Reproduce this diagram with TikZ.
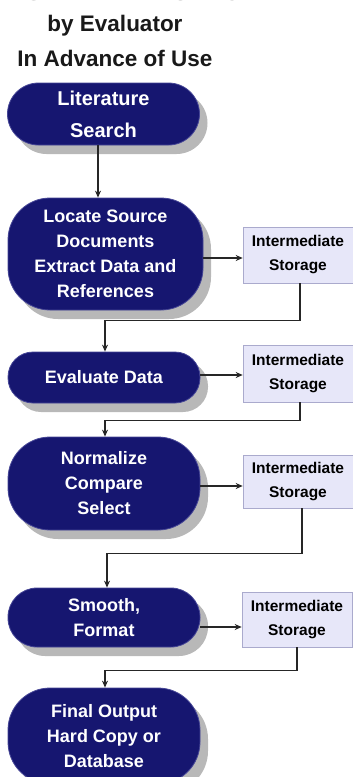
\documentclass[tikz,border=0pt]{standalone}
\usepackage{fontspec}
\setmainfont{Liberation Sans}
\usetikzlibrary{shadows,arrows.meta}
\definecolor{navy}{RGB}{22,22,112}
\definecolor{navyedge}{RGB}{70,70,150}
\definecolor{stor}{RGB}{231,231,249}
\definecolor{storline}{RGB}{170,170,205}
\tikzset{
  proc/.style={draw=navyedge, line width=0.8pt, fill=navy, text=white,
    font=\bfseries\fontsize{18}{25}\selectfont, align=center,
    minimum width=192pt, inner sep=0pt,
    drop shadow={shadow xshift=8pt, shadow yshift=-9pt, fill=black, opacity=0.28}},
  storebox/.style={draw=storline, line width=0.6pt, fill=stor, text=black,
    font=\bfseries\fontsize{15.5}{24}\selectfont, align=center,
    minimum width=110pt, inner sep=0pt},
  titletext/.style={font=\bfseries\fontsize{22.5}{33}\selectfont, text=black!90, inner sep=0pt},
  arr/.style={line width=1.1pt, draw=black!85, -{Stealth[length=7pt,width=6pt]}},
}
\begin{document}
\begin{tikzpicture}[x=1pt,y=-1pt]
\useasboundingbox (0,0) rectangle (353,777);
\clip (0,0) rectangle (353,777);
\fill[white] (0,0) rectangle (353,777);

% title
\node[titletext, text=black!60, anchor=base] (t0) at (130,0) {ING DATA EVALUATION};
\node[titletext] (t1) at (115,26) {by Evaluator};
\node[titletext] (t2) at (115,58) {In Advance of Use};

% process nodes
\node[proc, minimum height=62pt, rounded corners=31pt,
      font=\bfseries\fontsize{20}{32}\selectfont] (lit) at (103.5,114) {Literature\\Search};
\node[proc, minimum height=112pt, minimum width=195pt, rounded corners=42pt] (loc) at (105.5,254)
      {Locate Source\\Documents\\Extract Data and\\References};
\node[proc, minimum height=51pt, rounded corners=25pt] (eva) at (104,377.5) {Evaluate Data};
\node[proc, minimum height=93pt, rounded corners=42pt] (nor) at (104,483.5) {Normalize\\Compare\\Select};
\node[proc, minimum height=59pt, rounded corners=29pt] (smo) at (104,617.5) {Smooth,\\Format};
\node[proc, minimum height=96pt, rounded corners=42pt] (fin) at (104,736) {Final Output\\Hard Copy or\\Database};

% storage boxes
\node[storebox, minimum height=56pt] (s1) at (298,255) {Intermediate\\Storage};
\node[storebox, minimum height=57pt] (s2) at (298,373.5) {Intermediate\\Storage};
\node[storebox, minimum height=53pt] (s3) at (298,481.5) {Intermediate\\Storage};
\node[storebox, minimum height=55pt] (s4) at (297,619.5) {Intermediate\\Storage};

% connectors
\draw[arr] (lit.south -| 98,0) -- (loc.north -| 98,0);
\draw[arr] (loc.east |- 0,258) -- (s1.west |- 0,258);
\draw[arr] (s1.south -| 300,0) -- ++(0,37) -| (eva.north -| 105,0);
\draw[arr] (eva.east |- 0,375) -- (s2.west |- 0,375);
\draw[arr] (s2.south -| 300,0) -- ++(0,18) -| (nor.north -| 105,0);
\draw[arr] (nor.east |- 0,486) -- (s3.west |- 0,486);
\draw[arr] (s3.south -| 302,0) -- ++(0,45) -| (smo.north -| 107,0);
\draw[arr] (smo.east |- 0,627) -- (s4.west |- 0,627);
\draw[arr] (s4.south -| 297,0) -- ++(0,23) -| (fin.north -| 105,0);
\end{tikzpicture}
\end{document}
